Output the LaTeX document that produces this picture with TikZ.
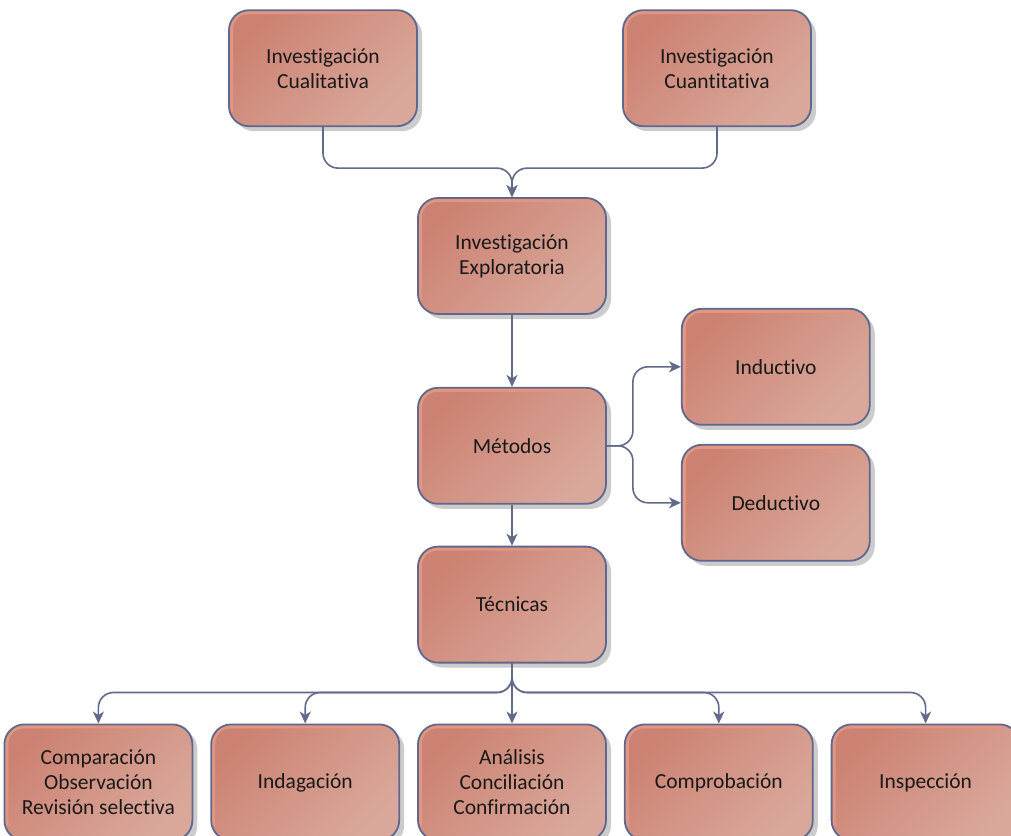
\documentclass[tikz,border=0pt]{standalone}
\usepackage{fontspec}
\setmainfont{Carlito}[Ligatures=NoCommon]
\usetikzlibrary{positioning,arrows.meta,shadows}
\definecolor{BoxDark}{RGB}{204,130,114}
\definecolor{BoxLight}{RGB}{217,168,155}
\definecolor{BoxGlow}{RGB}{225,150,130}
\definecolor{BoxEdge}{RGB}{95,104,140}
\definecolor{LinkGrey}{RGB}{98,106,140}
\definecolor{ShadowGrey}{RGB}{204,204,204}
\tikzset{
  flow/.style={-{Stealth[length=12pt,width=11pt,inset=3.5pt]},line width=1.6pt,
    draw=LinkGrey,rounded corners=15pt},
  stage/.style={draw=BoxEdge,line width=1.8pt,rounded corners=20pt,
    top color=BoxDark,bottom color=BoxLight,shading angle=45,
    drop shadow={shadow xshift=5pt,shadow yshift=-5pt,fill=ShadowGrey,opacity=1},
    path picture={\draw[BoxGlow,line width=4pt,rounded corners=17pt]
      ([shift={(2,-14)}]path picture bounding box.south west)
      |- ([shift={(-14,2)}]path picture bounding box.north east);},
    minimum width=188pt,minimum height=116pt,align=center,
    font=\fontsize{21.5}{25}\selectfont,text=black!90}
}
\begin{document}
\begin{tikzpicture}[x=1pt,y=-1pt]
  \useasboundingbox (0,0) rectangle (1011,835);
  \node[stage] (explo) at (512,256) {Investigación\\Exploratoria};
  \node[stage,above=70pt of explo,xshift=-189pt] (cual) {Investigación\\Cualitativa};
  \node[stage,above=70pt of explo,xshift=205pt] (cuant) {Investigación\\Cuantitativa};
  \node[stage,below=72pt of explo] (metodos) {Métodos};
  \node[stage,right=74pt of metodos,yshift=79pt] (induct) {Inductivo};
  \node[stage,right=74pt of metodos,yshift=-57pt] (deduct) {Deductivo};
  \node[stage,below=41pt of metodos] (tecnicas) {Técnicas};
  \node[stage,below=60pt of tecnicas] (analisis) {Análisis\\Conciliación\\Confirmación};
  \node[stage,left=17pt of analisis] (indaga) {Indagación};
  \node[stage,left=17pt of indaga] (compara) {Comparación\\Observación\\Revisión selectiva};
  \node[stage,right=17pt of analisis] (comprueba) {Comprobación};
  \node[stage,right=17pt of comprueba] (inspecc) {Inspección};
  % enfoques hacia la exploratoria
  \draw[flow] (cual.south) -- ++(0,41) -| (explo.north);
  \draw[flow] (cuant.south) -- ++(0,41) -| (explo.north);
  \draw[flow] (explo) -- (metodos);
  % metodos
  \draw[flow] (metodos.east) -- ++(26,0) |- (induct.west);
  \draw[flow] (metodos.east) -- ++(26,0) |- (deduct.west);
  \draw[flow] (metodos) -- (tecnicas);
  % tecnicas
  \foreach \n in {compara,indaga,comprueba,inspecc}
    \draw[flow] (tecnicas.south) -- ++(0,29) -| (\n.north);
  \draw[flow] (tecnicas) -- (analisis);
\end{tikzpicture}
\end{document}
